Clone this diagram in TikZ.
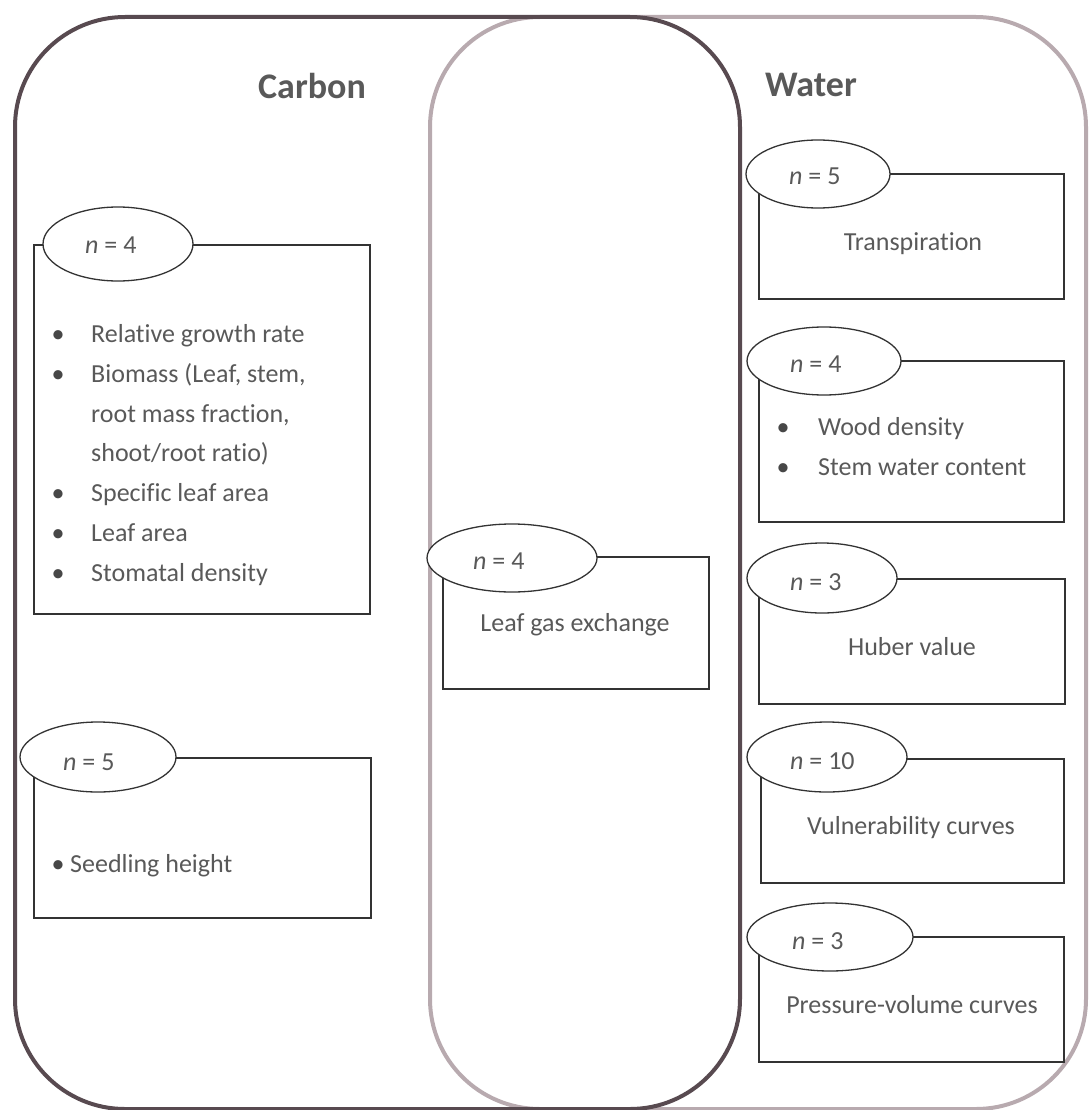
\documentclass[tikz,border=0pt]{standalone}
\usepackage{fontspec}
\setmainfont{Carlito}[Ligatures=NoCommon]
\usetikzlibrary{shapes.geometric}
\definecolor{carbonline}{RGB}{88,74,80}
\definecolor{waterline}{RGB}{184,170,175}
\definecolor{txt}{RGB}{89,89,89}
\begin{document}
\begin{tikzpicture}[x=1pt,y=-1pt,
  group/.style={line width=4pt, rounded corners=110pt, rectangle, inner sep=0pt, anchor=north west},
  databox/.style={draw=black!80, line width=1.6pt, rectangle, inner sep=0pt, anchor=north west},
  countoval/.style={draw=black!80, line width=1.3pt, ellipse, fill=white, inner sep=0pt},
  lbl/.style={inner sep=0pt, anchor=base west, text=txt, font=\fontsize{26}{31}\selectfont},
  ctr/.style={inner sep=0pt, anchor=base, text=txt, font=\fontsize{26}{31}\selectfont},
  bul/.style={inner sep=0pt, anchor=base, text=txt!80!black, font=\fontsize{26}{31}\selectfont},
  title/.style={inner sep=0pt, anchor=base, text=txt, font=\fontsize{36}{43}\selectfont\bfseries}]
\useasboundingbox (0,0) rectangle (1088,1110);
% groups
\node[group, draw=waterline, minimum width=656pt, minimum height=1092pt] (water) at (428,15) {};
\node[group, draw=carbonline, minimum width=725pt, minimum height=1092pt] (carbon) at (13,15) {};
\node[title] (ctitle) at (312,99) {Carbon};
\node[title] (wtitle) at (811,97) {Water};

% Carbon box 1
\node[databox, minimum width=336pt, minimum height=369pt] (c1) at (33,244) {};
\node[countoval, minimum width=150pt, minimum height=74pt] (c1n) at (118,244) {};
\node[lbl] (c1t) at (85,253) {\textit{n} = 4};
\node[bul] (b1) at (58,342) {\textbullet};
\node[lbl] (t1) at (91,342) {Relative growth rate};
\node[bul] (b2) at (58,382) {\textbullet};
\node[lbl] (t2) at (91,382) {Biomass (Leaf, stem,};
\node[lbl] (t3) at (91,422) {root mass fraction,};
\node[lbl] (t4) at (91,461) {shoot/root ratio)};
\node[bul] (b5) at (58,501) {\textbullet};
\node[lbl] (t5) at (91,501) {Specific leaf area};
\node[bul] (b6) at (58,541) {\textbullet};
\node[lbl] (t6) at (91,541) {Leaf area};
\node[bul] (b7) at (58,581) {\textbullet};
\node[lbl] (t7) at (91,581) {Stomatal density};

% Carbon box 2
\node[databox, minimum width=337pt, minimum height=160pt] (c2) at (33,757) {};
\node[countoval, minimum width=156pt, minimum height=70pt] (c2n) at (98,757) {};
\node[lbl] (c2t) at (63,770) {\textit{n} = 5};
\node[bul] (b8) at (58,872) {\textbullet};
\node[lbl] (t8) at (70,872) {Seedling height};

% Middle box
\node[databox, minimum width=266pt, minimum height=132pt] (m) at (442,556) {};
\node[countoval, minimum width=170pt, minimum height=68pt] (mn) at (512,558) {};
\node[lbl] (mt) at (473,569) {\textit{n} = 4};
\node[ctr] (mtx) at (575,631) {Leaf gas exchange};

% Water boxes
\node[databox, minimum width=305pt, minimum height=125pt] (w1) at (758,173) {};
\node[countoval, minimum width=144pt, minimum height=68pt] (w1n) at (818,174) {};
\node[lbl] (w1t) at (789,185) {\textit{n} = 5};
\node[ctr] (w1x) at (913,250) {Transpiration};

\node[databox, minimum width=305pt, minimum height=161pt] (w2) at (758,360) {};
\node[countoval, minimum width=154pt, minimum height=68pt] (w2n) at (824,361) {};
\node[lbl] (w2t) at (790,372) {\textit{n} = 4};
\node[bul] (b9) at (783,435) {\textbullet};
\node[lbl] (t9) at (818,435) {Wood density};
\node[bul] (b10) at (783,475) {\textbullet};
\node[lbl] (t10) at (818,475) {Stem water content};

\node[databox, minimum width=306pt, minimum height=125pt] (w3) at (758,578) {};
\node[countoval, minimum width=150pt, minimum height=70pt] (w3n) at (822,578) {};
\node[lbl] (w3t) at (790,590) {\textit{n} = 3};
\node[ctr] (w3x) at (912,655) {Huber value};

\node[databox, minimum width=303pt, minimum height=124pt] (w4) at (760,758) {};
\node[countoval, minimum width=160pt, minimum height=70pt] (w4n) at (827,757) {};
\node[lbl] (w4t) at (790,769) {\textit{n} = 10};
\node[ctr] (w4x) at (911,834) {Vulnerability curves};

\node[databox, minimum width=305pt, minimum height=125pt] (w5) at (758,936) {};
\node[countoval, minimum width=166pt, minimum height=68pt] (w5n) at (830,937) {};
\node[lbl] (w5t) at (792,949) {\textit{n} = 3};
\node[ctr] (w5x) at (912,1013) {Pressure-volume curves};
\end{tikzpicture}
\end{document}
